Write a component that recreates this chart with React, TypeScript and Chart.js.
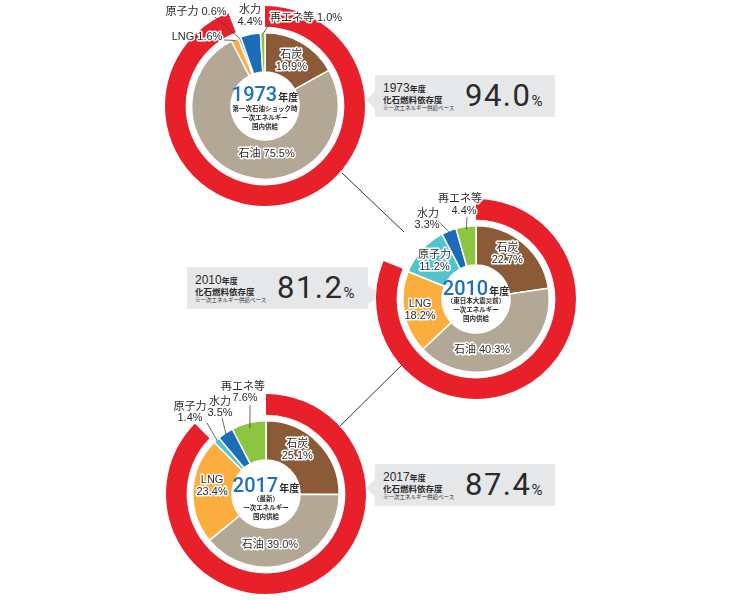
import React, { useEffect, useRef } from "react";
import { Chart, registerables } from "chart.js";

Chart.register(...registerables);

// ---------- data ----------
const SOURCES = ["石炭", "石油", "LNG", "原子力", "水力", "再エネ等"];
const YEARS = ["1973", "2010", "2017"];
const SHARE_1973 = [16.9, 75.5, 1.6, 0.6, 4.4, 1.0];
const SHARE_2010 = [22.7, 40.3, 18.2, 11.2, 3.3, 4.4];
const SHARE_2017 = [25.1, 39.0, 23.4, 1.4, 3.5, 7.6];
const FOSSIL_DEPENDENCY = [94.0, 81.2, 87.4];
const CENTER_NOTES = [
  ["第一次石油ショック時", "一次エネルギー", "国内供給"],
  ["（東日本大震災前）", "一次エネルギー", "国内供給"],
  ["（最新）", "一次エネルギー", "国内供給"],
];
const YEAR_SUFFIX = "年度";
const BOX_TITLE = "化石燃料依存度";
const BOX_NOTE = "※一次エネルギー供給ベース";

// ---------- styles ----------
const SLICE_COLORS = ["#8B5A37", "#B3A895", "#FBAD3E", "#51C3CF", "#1B6DB5", "#8CC540"];
const RED = "#E8202A";
const BLUE = "#1D70B8";
const TEXT = "#2B2B2B";
const BOX_BG = "#E6E7E9";
const FONT = '"Liberation Sans", "Noto Sans CJK JP", sans-serif';
const NUMFONT = 'Roboto, "Liberation Sans", sans-serif';
const JFONT = '"Noto Sans CJK JP", "Liberation Sans", sans-serif';

type InLabel = { kind: "in"; r: number; dx: number; dy: number; oneLine?: boolean };
type OutLabel = {
  kind: "out";
  pos: number[][]; // one [dx,dy] per line relative to chart centre
  oneLine?: boolean;
  leader?: number[]; // [startR, endDx, endDy]
};
type LabelSpec = InLabel | OutLabel;

const LAYOUT: {
  cx: number;
  cy: number;
  titleDy: number;
  noteDy: number[];
  labels: LabelSpec[];
}[] = [
  {
    cx: 265,
    cy: 106,
    titleDy: -12,
    noteDy: [3, 12, 21],
    labels: [
      { kind: "in", r: 52, dx: 0, dy: 0 },
      { kind: "in", r: 50, dx: 16, dy: 0, oneLine: true },
      { kind: "out", pos: [[-68, -69]], oneLine: true, leader: [72, -41, -66] },
      { kind: "out", pos: [[-69, -94]], oneLine: true, leader: [72, -50, -89] },
      { kind: "out", pos: [[-15, -96], [-15, -84]] },
      { kind: "out", pos: [[41, -88]], oneLine: true, leader: [72, 5, -83] },
    ],
  },
  {
    cx: 476,
    cy: 299,
    titleDy: -11,
    noteDy: [2, 11, 20],
    labels: [
      { kind: "in", r: 54, dx: -4, dy: -4 },
      { kind: "in", r: 55, dx: -18, dy: 1, oneLine: true },
      { kind: "in", r: 57, dx: 0, dy: 0 },
      { kind: "in", r: 56, dx: 0, dy: 0 },
      { kind: "out", pos: [[-48, -85], [-49, -74]], leader: [72, -38, -78] },
      { kind: "out", pos: [[-16, -100], [-12, -88]], leader: [70, -9, -82] },
    ],
  },
  {
    cx: 266,
    cy: 494,
    titleDy: -9,
    noteDy: [5, 14, 23],
    labels: [
      { kind: "in", r: 54, dx: -7, dy: -6 },
      { kind: "in", r: 54, dx: -14, dy: 0, oneLine: true },
      { kind: "in", r: 54, dx: 0, dy: -5 },
      { kind: "out", pos: [[-76, -87], [-76, -76]], leader: [72, -59, -71] },
      { kind: "out", pos: [[-46, -92], [-46, -81]], leader: [72, -44, -76] },
      { kind: "out", pos: [[-23, -107], [-21, -96]], leader: [68, -16, -89] },
    ],
  },
];

const BOXES = [
  { left: 375, top: 75, width: 180, height: 42, arrow: "left", tipX: 366, tipY: 100 },
  { left: 187, top: 267, width: 181, height: 42, arrow: "right", tipX: 384, tipY: 295 },
  { left: 375, top: 464, width: 180, height: 42, arrow: "left", tipX: 366, tipY: 488 },
];

const CONNECTORS = [
  [342, 173, 404, 232],
  [405, 362, 340, 426],
];

const CANVAS = 300;
const PAD = 50;

function haloText(ctx: CanvasRenderingContext2D, s: string, x: number, y: number) {
  ctx.lineWidth = 3;
  ctx.strokeStyle = "#ffffff";
  ctx.lineJoin = "round";
  ctx.strokeText(s, x, y);
  ctx.fillStyle = TEXT;
  ctx.fillText(s, x, y);
}

function makePlugin(idx: number) {
  return {
    id: "sliceLabels" + idx,
    afterDatasetsDraw(chart: any) {
      const ctx: CanvasRenderingContext2D = chart.ctx;
      const lay = LAYOUT[idx];
      const meta = chart.getDatasetMeta(2);
      const values: number[] = chart.data.datasets[2].data;
      ctx.save();
      ctx.textAlign = "center";
      ctx.textBaseline = "middle";
      ctx.font = `11px ${FONT}`;
      meta.data.forEach((arc: any, i: number) => {
        const p = arc.getProps(["x", "y", "startAngle", "endAngle", "outerRadius"], true);
        const mid = (p.startAngle + p.endAngle) / 2;
        const spec = lay.labels[i];
        const name = SOURCES[i];
        const pct = values[i].toFixed(1) + "%";
        if (spec.kind === "in") {
          const x = p.x + Math.cos(mid) * spec.r + spec.dx;
          const y = p.y + Math.sin(mid) * spec.r + spec.dy;
          if (spec.oneLine) {
            haloText(ctx, name + " " + pct, x, y);
          } else {
            haloText(ctx, name, x, y - 6);
            haloText(ctx, pct, x, y + 6);
          }
        } else {
          if (spec.leader) {
            const [sr, ex, ey] = spec.leader;
            ctx.beginPath();
            ctx.moveTo(p.x + Math.cos(mid) * sr, p.y + Math.sin(mid) * sr);
            ctx.lineTo(p.x + ex, p.y + ey);
            ctx.strokeStyle = "#444";
            ctx.lineWidth = 0.8;
            ctx.stroke();
          }
          if (spec.oneLine) {
            haloText(ctx, name + " " + pct, p.x + spec.pos[0][0], p.y + spec.pos[0][1]);
          } else {
            haloText(ctx, name, p.x + spec.pos[0][0], p.y + spec.pos[0][1]);
            haloText(ctx, pct, p.x + spec.pos[1][0], p.y + spec.pos[1][1]);
          }
        }
      });
      // centre text
      const cx = meta.data[0].x;
      const cy = meta.data[0].y;
      const year = YEARS[idx];
      const yearFont = `500 20px ${NUMFONT}`;
      const sufFont = `bold 10px ${JFONT}`;
      ctx.font = yearFont;
      const w1 = ctx.measureText(year).width;
      ctx.font = sufFont;
      const w2 = ctx.measureText(YEAR_SUFFIX).width;
      const startX = cx - (w1 + w2 + 1) / 2;
      ctx.textAlign = "left";
      ctx.textBaseline = "alphabetic";
      ctx.font = yearFont;
      ctx.fillStyle = BLUE;
      ctx.fillText(year, startX, cy + lay.titleDy + 7);
      ctx.font = sufFont;
      ctx.fillStyle = TEXT;
      ctx.fillText(YEAR_SUFFIX, startX + w1 + 1, cy + lay.titleDy + 6.5);
      ctx.textAlign = "center";
      ctx.textBaseline = "middle";
      ctx.font = `bold 6.5px ${JFONT}`;
      CENTER_NOTES[idx].forEach((s, k) => {
        ctx.fillText(s, cx, cy + lay.noteDy[k]);
      });
      ctx.restore();
    },
  };
}

function Donut({ idx, shares }: { idx: number; shares: number[] }) {
  const ref = useRef<HTMLCanvasElement | null>(null);
  useEffect(() => {
    if (!ref.current) return;
    const fossil = FOSSIL_DEPENDENCY[idx];
    const chart = new Chart(ref.current, {
      type: "doughnut",
      data: {
        labels: SOURCES,
        datasets: [
          {
            data: [fossil, +(100 - fossil).toFixed(1)],
            backgroundColor: [RED, "rgba(0,0,0,0)"],
            borderWidth: 0,
            hoverBorderWidth: 0,
            weight: 20,
          } as any,
          {
            data: [1],
            backgroundColor: ["rgba(0,0,0,0)"],
            borderWidth: 0,
            hoverBorderWidth: 0,
            weight: 6,
          } as any,
          {
            data: shares,
            backgroundColor: SLICE_COLORS,
            borderColor: "#ffffff",
            borderWidth: 1.5,
            hoverBorderWidth: 1.5,
            weight: 38,
          } as any,
        ],
      },
      options: {
        responsive: false,
        maintainAspectRatio: false,
        animation: false,
        events: [],
        cutout: 34,
        layout: { padding: PAD },
        plugins: { legend: { display: false }, tooltip: { enabled: false } },
      } as any,
      plugins: [makePlugin(idx) as any],
    });
    return () => chart.destroy();
  }, [idx, shares]);
  const lay = LAYOUT[idx];
  return (
    <canvas
      ref={ref}
      width={CANVAS}
      height={CANVAS}
      style={{
        position: "absolute",
        left: lay.cx - CANVAS / 2,
        top: lay.cy - CANVAS / 2,
        width: CANVAS,
        height: CANVAS,
      }}
    />
  );
}

function InfoBox({ idx }: { idx: number }) {
  const b = BOXES[idx];
  const value = FOSSIL_DEPENDENCY[idx].toFixed(1);
  const tri =
    b.arrow === "left"
      ? {
          left: b.tipX,
          top: b.tipY - 9,
          borderTop: "9px solid transparent",
          borderBottom: "9px solid transparent",
          borderRight: `${b.left - b.tipX}px solid ${BOX_BG}`,
        }
      : {
          left: b.left + b.width,
          top: b.tipY - 9,
          borderTop: "9px solid transparent",
          borderBottom: "9px solid transparent",
          borderLeft: `${b.tipX - b.left - b.width}px solid ${BOX_BG}`,
        };
  return (
    <>
      <div style={{ position: "absolute", width: 0, height: 0, ...tri }} />
      <div
        style={{
          position: "absolute",
          left: b.left,
          top: b.top,
          width: b.width,
          height: b.height,
          background: BOX_BG,
          color: TEXT,
        }}
      >
        <div
          style={{
            position: "absolute",
            left: 8,
            top: 5,
            whiteSpace: "nowrap",
            lineHeight: "14px",
          }}
        >
          <span style={{ fontFamily: FONT, fontSize: 12 }}>{YEARS[idx]}</span>
          <span style={{ fontFamily: JFONT, fontSize: 8, fontWeight: 700 }}>{YEAR_SUFFIX}</span>
        </div>
        <div
          style={{
            position: "absolute",
            left: 8,
            top: 19,
            fontFamily: JFONT,
            fontSize: 8.5,
            fontWeight: 700,
            lineHeight: "11px",
            whiteSpace: "nowrap",
          }}
        >
          {BOX_TITLE}
        </div>
        <div
          style={{
            position: "absolute",
            left: 8,
            top: 30,
            fontFamily: JFONT,
            fontSize: 5.5,
            lineHeight: "7px",
            whiteSpace: "nowrap",
          }}
        >
          {BOX_NOTE}
        </div>
        <div
          style={{
            position: "absolute",
            left: 90,
            top: 3,
            whiteSpace: "nowrap",
            lineHeight: "36px",
          }}
        >
          <span
            style={{
              fontFamily: NUMFONT,
              fontWeight: 400,
              fontSize: 31,
              letterSpacing: 1.5,
            }}
          >
            {value}
          </span>
          <span style={{ fontFamily: NUMFONT, fontSize: 15, marginLeft: 0 }}>%</span>
        </div>
      </div>
    </>
  );
}

export default function App() {
  const shares = [SHARE_1973, SHARE_2010, SHARE_2017];
  return (
    <div
      style={{
        position: "absolute",
        left: 0,
        top: 0,
        width: 743,
        height: 600,
        background: "#ffffff",
        overflow: "hidden",
      }}
    >
      <svg
        width={743}
        height={600}
        style={{ position: "absolute", left: 0, top: 0 }}
      >
        {CONNECTORS.map((c, i) => (
          <line key={i} x1={c[0]} y1={c[1]} x2={c[2]} y2={c[3]} stroke="#333" strokeWidth={1} />
        ))}
      </svg>
      {[0, 1, 2].map((i) => (
        <InfoBox key={"b" + i} idx={i} />
      ))}
      {[0, 1, 2].map((i) => (
        <Donut key={"d" + i} idx={i} shares={shares[i]} />
      ))}
    </div>
  );
}
